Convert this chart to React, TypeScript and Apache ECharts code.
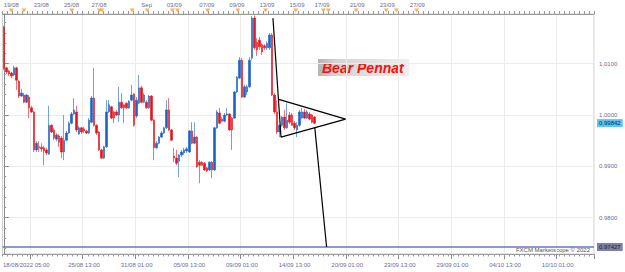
import React, { useEffect, useRef } from "react";
import * as echarts from "echarts";

// 4-hour trading slots shown on the axis (first slot = 18/08/2022 05:00)
const SLOT_COUNT = 236;

const opens = [
  1.0171, 1.0092, 1.0086, 1.0082, 1.0078, 1.0092, 1.0066, 1.0037, 1.0039, 1.0025,
  1.0035, 1.0014, 1.0006, 0.9932, 0.9938, 0.9937, 0.9936, 0.9932, 0.9924, 0.998,
  0.9971, 0.9953, 0.9959, 0.9955, 0.9928, 0.9951, 0.9965, 0.9984, 1.0002, 1.0006,
  0.9963, 0.9975, 0.9973, 0.9969, 0.9965, 0.9986, 1.0033, 0.998, 0.9967, 0.9932,
  0.9916, 0.9938, 1.0006, 1.0016, 1.0006, 1.0006, 1.0, 1.0025, 1.002, 1.0023,
  1.0014, 1.0029, 1.0041, 0.9998, 1.0023, 1.0053, 1.0025, 1.0025, 1.0014, 1.0037,
  0.999, 0.9936, 0.9945, 0.9957, 0.9965, 0.9975, 1.001, 0.9971, 0.992, 0.9916,
  0.991, 0.9922, 0.9926, 0.993, 0.9928, 0.9969, 0.9945, 0.9957, 0.9908, 0.9908,
  0.9906, 0.9897, 0.9893, 0.9908, 0.9893, 0.9975, 1.0004, 0.9988, 0.9988, 1.0,
  1.0002, 0.9994, 0.9994, 1.0045, 1.0072, 1.0107, 1.0035, 1.0045, 1.0055, 1.0111,
  1.0189, 1.0142, 1.0146, 1.0137, 1.0135, 1.0131, 1.0131, 1.0156, 1.0039, 1.0006,
  0.9967, 0.998, 0.9996, 0.9975, 1.0, 1.0, 0.9984, 0.9971, 0.998, 0.9994,
  1.0006, 0.9994, 1.0002, 1.0, 0.9996,
];
const closes = [
  1.0091, 1.0084, 1.008, 1.0076, 1.0092, 1.0068, 1.0037, 1.0043, 1.0025, 1.0039,
  1.0014, 1.0006, 0.9932, 0.9945, 0.9936, 0.9934, 0.993, 0.9926, 0.998, 0.9967,
  0.9955, 0.9961, 0.9947, 0.9928, 0.9951, 0.9965, 0.9984, 1.0002, 1.001, 0.9971,
  0.9975, 0.9967, 0.9969, 0.9965, 0.999, 1.0033, 0.998, 0.9965, 0.9932, 0.9916,
  0.9938, 1.0006, 1.002, 0.9994, 0.9994, 1.0, 1.0025, 1.0014, 1.0014, 1.0014,
  1.0027, 1.0039, 0.998, 1.0029, 1.0053, 1.0025, 1.0039, 1.0014, 1.0037, 0.999,
  0.9936, 0.9945, 0.9957, 0.9965, 0.9975, 1.001, 0.9971, 0.9951, 0.9916, 0.9906,
  0.9922, 0.9928, 0.9932, 0.9934, 0.9969, 0.9945, 0.9957, 0.9899, 0.9902, 0.9902,
  0.9893, 0.9891, 0.9908, 0.9893, 0.9975, 1.0006, 0.9984, 0.9992, 1.0, 1.0002,
  0.9971, 0.9971, 1.0045, 1.0074, 1.0107, 1.0035, 1.0055, 1.0055, 1.0107, 1.0189,
  1.0131, 1.0127, 1.0133, 1.0123, 1.0131, 1.014, 1.0156, 1.0039, 1.0006, 0.9967,
  0.998, 0.9996, 0.9975, 0.999, 0.9986, 0.998, 0.9975, 0.998, 1.0006, 1.0006,
  0.9994, 1.0006, 0.9992, 0.9986, 0.99842,
];
const lows = [
  1.0088, 1.008, 1.0076, 1.0072, 1.0076, 1.0049, 1.0033, 1.0035, 1.0023, 1.0023,
  0.9994, 1.0004, 0.9928, 0.9928, 0.9928, 0.9928, 0.9902, 0.9922, 0.9922, 0.9965,
  0.9951, 0.9949, 0.9938, 0.9916, 0.9912, 0.9949, 0.9963, 0.9982, 1.0, 0.9967,
  0.9961, 0.9963, 0.9965, 0.9963, 0.9963, 0.9984, 0.9977, 0.9961, 0.993, 0.9914,
  0.9914, 0.9936, 1.0004, 0.9992, 0.9984, 0.9998, 0.9986, 1.0012, 0.9984, 1.0012,
  1.0012, 1.0027, 0.9977, 0.9994, 1.0021, 1.0023, 1.0023, 1.0012, 1.0012, 0.9988,
  0.9912, 0.9934, 0.9943, 0.9955, 0.9963, 0.9973, 0.9969, 0.9949, 0.9908, 0.9902,
  0.9879, 0.9918, 0.9922, 0.9926, 0.9926, 0.9943, 0.9943, 0.9897, 0.9867, 0.9901,
  0.9891, 0.9889, 0.9891, 0.9877, 0.9891, 0.9973, 0.9982, 0.9986, 0.9986, 0.9998,
  0.9969, 0.9932, 0.9992, 1.0043, 1.007, 1.0033, 1.0033, 1.0039, 1.0053, 1.0107,
  1.0127, 1.0115, 1.0127, 1.0117, 1.0127, 1.0127, 1.0127, 1.0037, 1.0002, 0.9963,
  0.9957, 0.9977, 0.9971, 0.9973, 0.9982, 0.9979, 0.9971, 0.9957, 0.9977, 0.9992,
  0.9992, 0.9992, 0.999, 0.9984, 0.9982,
];
const highs = [
  1.0174, 1.0094, 1.0088, 1.0084, 1.0096, 1.0094, 1.0068, 1.0051, 1.0043, 1.0041,
  1.0039, 1.0018, 1.0008, 0.9949, 0.9949, 0.9945, 0.994, 0.9936, 1.0018, 0.9982,
  0.9975, 0.9965, 0.9963, 0.9959, 1.0, 0.9969, 0.9988, 1.0006, 1.0033, 1.0018,
  0.9979, 0.9977, 0.9977, 0.9971, 0.9994, 1.0037, 1.0092, 0.9982, 0.9969, 0.9934,
  0.994, 1.0029, 1.0029, 1.0018, 1.0008, 1.001, 1.0055, 1.0043, 1.0021, 1.0025,
  1.0029, 1.0059, 1.0043, 1.0035, 1.0078, 1.0057, 1.0043, 1.0029, 1.0039, 1.0039,
  0.9992, 0.9949, 0.9959, 0.9969, 0.9977, 1.0029, 1.0033, 0.9973, 0.9936, 0.9932,
  0.9924, 0.9932, 0.9936, 0.9938, 0.9971, 0.9986, 0.9986, 0.9959, 0.9912, 0.991,
  0.9908, 0.9899, 0.991, 0.991, 0.9977, 1.001, 1.0014, 0.9996, 1.0004, 1.0014,
  1.0004, 0.9996, 1.0047, 1.0076, 1.0113, 1.0111, 1.0059, 1.0059, 1.0113, 1.0193,
  1.0194, 1.015, 1.0152, 1.014, 1.0138, 1.0144, 1.016, 1.016, 1.0043, 1.0029,
  0.9982, 0.9998, 1.001, 1.0023, 1.0006, 1.0004, 0.9988, 0.9986, 1.001, 1.0014,
  1.0012, 1.001, 1.0006, 1.0002, 0.9998,
];

// bottom time axis
const gridSlots = [11, 32, 53, 74, 95, 116, 137, 158, 179, 200, 221];
const bottomLabelSlots = [9, 32, 53, 74, 95, 116, 137, 158, 179, 200, 221];
const bottomLabels = [
  "18/08/2022 05:00", "25/08 13:00", "31/08 01:00", "05/09 13:00", "09/09 01:00",
  "14/09 13:00", "20/09 01:00", "23/09 13:00", "29/09 01:00", "04/10 13:00", "10/10 01:00",
];
// top date axis
const topLabelSlots = [3, 15, 27, 38, 57, 68, 81, 93, 105, 117, 127, 141, 153, 165];
const topLabels = [
  "19/08", "23/08", "25/08", "27/08", "Sep", "03/09", "07/09", "09/09",
  "13/09", "15/09", "17/09", "21/09", "23/09", "27/09",
];
// economic event markers on the top axis
const eventSlots = [4, 9, 28, 39, 40, 52, 58, 68, 70, 82, 94, 105, 117, 128, 130, 141, 153, 157, 165];

// pattern annotation (slot, price)
const pennantOutline = [
  [107.4, 1.0189],
  [110.6, 0.9957],
  [136.4, 0.9992],
  [109.4, 1.0031],
];
const breakoutProjection = [
  [124.1, 0.9975],
  [128.8, 0.9743],
];
const lastPrice = 0.99842;
const supportLevel = 0.97427;
const priceMin = 0.9729;
const priceMax = 1.0197;

const FONT = "Liberation Sans";
const AXIS_TEXT = "#6b6b98";

export default function App() {
  const ref = useRef<HTMLDivElement>(null);

  useEffect(() => {
    if (!ref.current) return;
    const chart = echarts.init(ref.current, undefined, { renderer: "svg" });

    const slots = Array.from({ length: SLOT_COUNT }, (_, i) => String(i));
    const gridSet = new Set(gridSlots);
    const bottomMap = new Map<number, string>();
    bottomLabelSlots.forEach((s, i) => bottomMap.set(s, bottomLabels[i]));
    const topMap = new Map<number, string>();
    topLabelSlots.forEach((s, i) => topMap.set(s, topLabels[i]));

    const candleData = opens.map((o, i) => [o, closes[i], lows[i], highs[i]]);
    const firstSlot = -0.5;
    const lastSlot = SLOT_COUNT - 0.5;

    const priceTag = (value: number, bg: string, fg: string) => ({
      show: true,
      formatter: () => value.toFixed(5),
      backgroundColor: bg,
      color: fg,
      fontSize: 6,
      fontFamily: FONT,
      padding: [1, 2, 1, 2],
      distance: 3,
      align: "left",
    });

    const option: any = {
      animation: false,
      backgroundColor: "#ffffff",
      grid: [
        {
          left: -1,
          right: 31,
          top: 14,
          height: 240,
          show: true,
          borderColor: "#cfcfcf",
          borderWidth: 1,
        },
        { left: -1, right: 31, top: 8, height: 5 },
      ],
      xAxis: [
        {
          type: "category",
          gridIndex: 0,
          data: slots,
          position: "bottom",
          boundaryGap: true,
          axisLine: { show: true, lineStyle: { color: "#9a9a9a" } },
          axisTick: {
            show: true,
            interval: (i: number) => gridSet.has(i),
            length: 5,
            lineStyle: { color: "#8a8a8a" },
          },
          axisLabel: {
            show: true,
            interval: (i: number) => bottomMap.has(i),
            formatter: (_v: string, i: number) => bottomMap.get(i) ?? "",
            fontSize: 6,
            fontFamily: FONT,
            color: AXIS_TEXT,
            margin: 8,
            hideOverlap: false,
          },
          splitLine: {
            show: true,
            interval: (i: number) => gridSet.has(i),
            lineStyle: { color: "#ebebeb" },
          },
        },
        {
          type: "category",
          gridIndex: 0,
          data: slots,
          position: "bottom",
          boundaryGap: true,
          axisLine: { show: false },
          axisTick: { show: true, interval: 1, length: 2.5, lineStyle: { color: "#9a9a9a" } },
          axisLabel: { show: false },
          splitLine: { show: false },
        },
        {
          type: "category",
          gridIndex: 0,
          data: slots,
          position: "top",
          boundaryGap: true,
          axisLine: { show: true, lineStyle: { color: "#9a9a9a" } },
          axisTick: { show: true, interval: 1, length: 3, lineStyle: { color: "#9a9a9a" } },
          axisLabel: {
            show: true,
            interval: (i: number) => topMap.has(i),
            formatter: (_v: string, i: number) => topMap.get(i) ?? "",
            fontSize: 6,
            fontFamily: FONT,
            color: AXIS_TEXT,
            margin: 6,
            hideOverlap: false,
          },
          splitLine: { show: false },
        },
        {
          type: "value",
          gridIndex: 0,
          min: firstSlot,
          max: lastSlot,
          show: false,
          position: "top",
          splitLine: { show: false },
        },
        {
          type: "category",
          gridIndex: 1,
          data: slots,
          boundaryGap: true,
          show: false,
        },
      ],
      yAxis: [
        {
          type: "value",
          gridIndex: 0,
          position: "right",
          min: priceMin,
          max: priceMax,
          scale: true,
          axisLine: { show: true, lineStyle: { color: "#8a8a8a" } },
          axisTick: { show: true, length: 5, lineStyle: { color: "#8a8a8a" } },
          minorTick: { show: true, splitNumber: 5, length: 2.5, lineStyle: { color: "#9a9a9a" } },
          axisLabel: {
            formatter: (v: number) => v.toFixed(4),
            showMinLabel: false,
            showMaxLabel: false,
            fontSize: 6,
            fontFamily: FONT,
            color: AXIS_TEXT,
            margin: 5,
          },
          splitLine: { show: true, lineStyle: { color: "#ebebeb" } },
        },
        { type: "value", gridIndex: 1, min: 0, max: 1, show: false },
      ],
      series: [
        {
          type: "candlestick",
          xAxisIndex: 0,
          yAxisIndex: 0,
          data: candleData,
          barWidth: 2,
          itemStyle: {
            color: "#1a63c7",
            borderColor: "#1a63c7",
            color0: "#e5141c",
            borderColor0: "#e5141c",
            borderWidth: 0.6,
          },
        },
        {
          type: "line",
          xAxisIndex: 3,
          yAxisIndex: 0,
          data: [
            [firstSlot, supportLevel],
            [lastSlot, supportLevel],
          ],
          symbol: "none",
          lineStyle: { color: "#6d74b6", width: 1.5 },
          endLabel: priceTag(supportLevel, "#7d82a4", "#1c1c3a"),
          z: 4,
        },
        {
          type: "line",
          xAxisIndex: 3,
          yAxisIndex: 0,
          data: [
            [lastSlot - 1, lastPrice],
            [lastSlot, lastPrice],
          ],
          symbol: "none",
          lineStyle: { color: "rgba(0,0,0,0)", width: 0 },
          endLabel: priceTag(lastPrice, "#5ac4f3", "#16245a"),
          z: 4,
        },
        {
          type: "line",
          xAxisIndex: 3,
          yAxisIndex: 0,
          data: pennantOutline,
          symbol: "none",
          lineStyle: { color: "#000000", width: 1.2 },
          z: 5,
        },
        {
          type: "line",
          xAxisIndex: 3,
          yAxisIndex: 0,
          data: breakoutProjection,
          symbol: "none",
          lineStyle: { color: "#000000", width: 1.2 },
          z: 5,
        },
        {
          type: "scatter",
          xAxisIndex: 4,
          yAxisIndex: 1,
          data: eventSlots.map((s) => [s, 0.5]),
          symbol: "triangle",
          symbolRotate: 180,
          symbolSize: [5, 4],
          itemStyle: { color: "#f3a328" },
          z: 6,
        },
      ],
      graphic: [
        {
          type: "group",
          left: 318,
          top: 59,
          children: [
            {
              type: "rect",
              shape: { x: 0, y: 0, width: 91, height: 17 },
              style: {
                fill: new echarts.graphic.LinearGradient(0, 0, 1, 0, [
                  { offset: 0, color: "#b4b4b4" },
                  { offset: 0.2, color: "#d4d4d4" },
                  { offset: 1, color: "#eeeeee" },
                ]),
              },
            },
            {
              type: "text",
              x: 4,
              y: 8.8,
              style: {
                text: "Bear Pennat",
                fill: "#ff0d0d",
                font: "italic bold 14px 'Liberation Sans'",
                verticalAlign: "middle",
                align: "left",
              },
            },
          ],
        },
        {
          type: "text",
          right: 35,
          top: 247,
          style: {
            text: "FXCM Marketscope © 2022",
            fill: "#555555",
            font: "6px 'Liberation Sans'",
          },
        },
      ],
    };

    chart.setOption(option);
    return () => chart.dispose();
  }, []);

  return (
    <div
      ref={ref}
      style={{ position: "absolute", left: 0, top: 0, width: 625, height: 272 }}
    />
  );
}
